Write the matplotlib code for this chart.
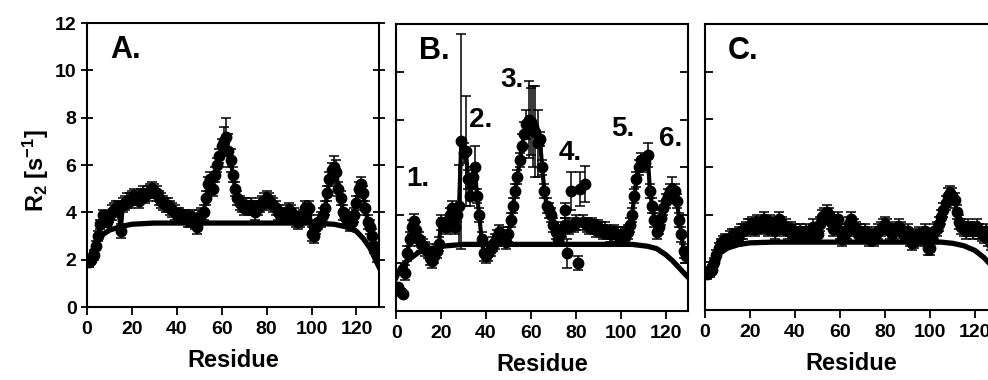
import matplotlib
matplotlib.use("Agg")
import matplotlib.pyplot as plt
import numpy as np

plt.rcParams['font.family'] = ['Liberation Sans', 'DejaVu Sans']
plt.rcParams['font.weight'] = 'bold'
plt.rcParams['mathtext.fontset'] = 'custom'
plt.rcParams['mathtext.bf'] = 'Liberation Sans:bold'
plt.rcParams['mathtext.rm'] = 'Liberation Sans:bold'
plt.rcParams['mathtext.default'] = 'bf'

# ---- panel A ----
resA = list(range(1, 130))
r2A = [1.9, 2.0, 2.2, 2.6, 3.0, 3.5, 3.9, 3.8, 3.6, 3.8,
       4.0, 4.1, 4.2, 4.2, 3.2, 4.3, 4.4, 4.5, 4.5, 4.6,
       4.7, 4.6, 4.5, 4.7, 4.8, 4.7, 4.8, 4.9, 5.0, 4.9,
       4.8, 4.6, 4.5, 4.4, 4.3, 4.3, 4.2, 4.1, 4.0, 3.9,
       3.9, 3.8, 3.8, 3.8, 3.7, 3.7, 3.8, 3.6, 3.4, 3.8,
       3.9, 4.0, 4.6, 5.2, 5.4, 5.0, 5.6, 6.0, 6.4, 6.8,
       7.0, 7.2, 6.6, 6.2, 5.6, 5.0, 4.6, 4.4, 4.3, 4.2,
       4.3, 4.2, 4.3, 4.2, 4.0, 4.2, 4.3, 4.4, 4.5, 4.6,
       4.5, 4.4, 4.3, 4.2, 4.0, 3.9, 3.8, 3.9, 4.0, 4.1,
       4.0, 3.9, 3.7, 3.6, 3.7, 3.8, 4.2, 4.1, 4.2, 3.1,
       3.0, 3.4, 3.6, 3.7, 3.9, 4.2, 4.8, 5.4, 5.8, 5.9,
       5.7, 5.0, 4.6, 4.0, 3.8, 3.7, 3.5, 3.6, 3.9, 4.4,
       5.0, 5.2, 4.8, 4.2, 3.6, 3.4, 3.0, 2.6, 2.2]
errA = [0.2] * 10 + [0.3] * 50 + [0.6, 0.8, 0.7, 0.5] + [0.3] * 45 + [0.5, 0.5] + [0.3] * 18
modelA_x = [0, 2, 4, 6, 10, 15, 20, 30, 100, 110, 115, 120, 123, 126, 128, 130]
modelA_y = [1.8, 2.3, 2.7, 3.0, 3.25, 3.4, 3.5, 3.55, 3.55, 3.5, 3.4, 3.2, 2.9, 2.5, 2.1, 1.7]

# ---- panel B ----
resB = [4, 5, 6, 7, 8, 9, 10, 11, 12, 13, 14, 15, 16, 17, 18, 19, 20,
        21, 22, 23, 24, 25, 26, 27, 28, 29, 30, 31, 32, 33, 34, 35, 36,
        37, 38, 39, 40, 41, 42, 43, 44, 45, 46, 47, 48, 49, 50, 51, 52,
        53, 54, 55, 56, 57, 58, 59, 60, 61, 62, 63, 64, 65, 66, 67, 68,
        69, 70, 71, 72, 73, 74, 75, 77, 79, 80, 83, 85, 86, 87, 88, 89,
        90, 91, 92, 93, 94, 95, 96, 97, 98, 99, 100, 101, 102, 103, 104,
        105, 106, 107, 108, 109, 110, 111, 112, 113, 114, 115, 116, 117,
        118, 119, 120, 121, 122, 123, 124, 125, 126, 127, 128, 129]
r2B = [1.6, 2.4, 3.0, 3.5, 3.75, 3.4, 3.0, 2.8, 2.7, 2.6, 2.5, 2.2, 2.1,
       2.3, 2.5, 2.8, 3.7, 3.6, 3.5, 3.6, 4.0, 4.3, 3.5, 4.0, 4.4, 7.1,
       6.6, 6.7, 5.5, 4.8, 5.6, 6.0, 4.8, 4.0, 3.0, 2.4, 2.3, 2.4, 2.6,
       2.8, 2.9, 3.1, 3.3, 3.2, 3.0, 2.9, 3.2, 3.8, 4.4, 5.0, 5.6, 6.3,
       6.9, 7.4, 7.8, 8.0, 7.9, 7.7, 7.5, 7.0, 7.2, 6.0, 5.0, 4.4, 4.2,
       4.0, 3.6, 3.3, 3.0, 3.2, 3.4, 3.6, 3.5, 3.6, 3.7, 3.7, 3.6, 3.5,
       3.6, 3.5, 3.4, 3.5, 3.4, 3.3, 3.4, 3.3, 3.2, 3.2, 3.3, 3.2, 3.1,
       3.2, 3.2, 3.1, 3.3, 3.6, 4.0, 4.8, 5.5, 6.0, 6.3, 6.1, 6.2, 6.5,
       5.0, 4.4, 3.8, 3.3, 3.5, 3.9, 4.3, 4.6, 4.8, 5.0, 5.1, 5.0, 4.6,
       3.8, 3.2, 2.5, 2.3]
errB = ([0.3] * 24 + [1.7, 4.5, 0.4, 2.3, 0.4, 0.4, 0.4, 0.9] + [0.3] * 20
        + [0.5, 0.5, 0.6, 1.6, 1.4, 1.7, 1.9, 1.4] + [0.3] * 43
        + [0.5] + [0.3] * 10 + [0.5] + [0.3] * 6)
# isolated points that are not on the trace
outB_x = [1, 2, 3, 75, 76, 78, 81, 82, 84]
outB_y = [1.0, 0.8, 0.7, 4.2, 2.4, 5.0, 2.0, 5.1, 5.3]
outB_err = [0.1, 0.1, 0.1, 0.3, 0.6, 0.8, 0.3, 0.7, 0.75]
modelB_x = [0, 2, 5, 10, 15, 20, 30, 105, 112, 116, 120, 123, 126, 128, 130]
modelB_y = [1.4, 1.8, 2.1, 2.45, 2.6, 2.7, 2.78, 2.78, 2.7, 2.6, 2.35, 2.1, 1.8, 1.6, 1.4]
peak_labels = ['1.', '2.', '3.', '4.', '5.', '6.']
peak_x = [9.8, 37.8, 51.5, 77.5, 101.0, 122.0]
peak_y = [5.5, 8.0, 9.65, 6.6, 7.6, 7.2]

# ---- panel C ----
resC = list(range(1, 130))
r2C = [1.5, 1.6, 1.7, 2.0, 2.3, 2.6, 2.8, 2.9, 3.0, 2.8,
       3.0, 3.1, 3.1, 3.0, 3.2, 3.3, 3.3, 3.4, 3.5, 3.5,
       3.6, 3.4, 3.7, 3.6, 3.5, 3.8, 3.6, 3.4, 3.7, 3.6,
       3.3, 3.5, 3.8, 3.6, 3.4, 3.5, 3.3, 3.4, 3.2, 3.3,
       3.2, 3.3, 3.2, 3.1, 3.3, 3.2, 3.1, 3.5, 3.3, 3.2,
       3.6, 3.9, 4.0, 4.1, 4.0, 3.7, 3.4, 3.6, 3.8, 3.3,
       3.0, 3.2, 3.3, 3.6, 3.8, 3.5, 3.4, 3.2, 3.3, 3.1,
       3.3, 3.2, 3.0, 3.1, 3.0, 3.2, 3.3, 3.4, 3.5, 3.6,
       3.5, 3.3, 3.2, 3.3, 3.4, 3.5, 3.4, 3.2, 3.1, 3.3,
       3.0, 2.8, 2.9, 3.1, 3.2, 3.0, 3.1, 3.3, 2.6, 2.6,
       3.1, 3.3, 3.4, 3.6, 3.9, 4.2, 4.5, 4.8, 4.9, 4.8,
       4.6, 4.1, 3.7, 3.5, 3.4, 3.3, 3.5, 3.4, 3.3, 3.4,
       3.5, 3.3, 3.2, 3.1, 3.3, 3.0, 2.8, 2.6, 2.4]
errC = [0.2] * 10 + [0.3] * 119
modelC_x = [0, 3, 6, 10, 15, 20, 30, 105, 110, 115, 120, 124, 127, 130]
modelC_y = [1.5, 2.0, 2.35, 2.6, 2.75, 2.82, 2.85, 2.85, 2.8, 2.7, 2.5, 2.2, 1.9, 1.5]

fig = plt.figure(figsize=(9.88, 3.8), dpi=100)
axA = fig.add_axes([0.088, 0.192, 0.2955, 0.747])
axB = fig.add_axes([0.401, 0.182, 0.2955, 0.755])
axC = fig.add_axes([0.7136, 0.184, 0.296, 0.753])


def draw(ax, x, y, e, mx, my):
    ax.errorbar(x, y, yerr=e, fmt='none', ecolor='black', elinewidth=1.1,
                capsize=3.5, capthick=1.1, zorder=2)
    ax.plot(x, y, color='black', lw=3, marker='o', ms=7.5, zorder=3)
    ax.plot(mx, my, color='black', lw=3.8, zorder=4)


draw(axA, resA, r2A, errA, modelA_x, modelA_y)
draw(axB, resB, r2B, errB, modelB_x, modelB_y)
axB.errorbar(outB_x, outB_y, yerr=outB_err, fmt='o', color='black', ms=7.5,
             elinewidth=1.1, capsize=3.5, capthick=1.1, zorder=3)
draw(axC, resC, r2C, errC, modelC_x, modelC_y)

for lab, px, py in zip(peak_labels, peak_x, peak_y):
    axB.text(px, py, lab, fontsize=20, fontweight='bold', ha='center', va='center',
             clip_on=False, zorder=6)

for ax, lab in zip([axA, axB, axC], ['A.', 'B.', 'C.']):
    ax.set_xlim(0, 130)
    ax.set_ylim(0, 12)
    ax.set_xticks([0, 20, 40, 60, 80, 100, 120])
    ax.set_yticks([0, 2, 4, 6, 8, 10, 12])
    ax.text(17, 10.85, lab, fontsize=22, fontweight='bold', ha='center', va='center')
    ax.set_xlabel('Residue', fontsize=17, fontweight='bold', labelpad=8)
    for s in ax.spines.values():
        s.set_linewidth(1.5)
    ax.tick_params(axis='x', direction='out', length=6, width=1.3, pad=4,
                   labelsize=14)
    ax.tick_params(axis='y', direction='in', length=6, width=1.3, right=True,
                   labelsize=14)
    for t in ax.get_xticklabels() + ax.get_yticklabels():
        t.set_fontweight('bold')

axA.yaxis.set_tick_params(which='major', direction='inout', length=9, pad=3)
axB.tick_params(axis='y', labelleft=False)
axC.tick_params(axis='y', labelleft=False)

fig.text(0.036, 0.55, r'R$_2$ [s$^{-1}$]', rotation=90, fontsize=17,
         fontweight='bold', ha='center', va='center')

fig.savefig('out.png', dpi=100)
